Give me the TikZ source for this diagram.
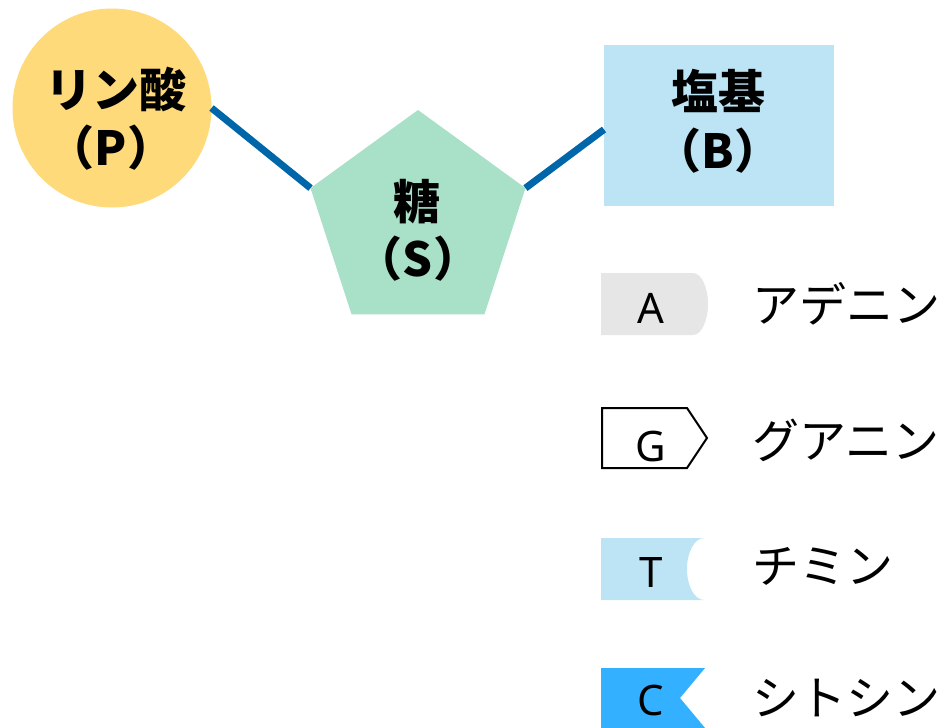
\documentclass[tikz,border=0pt]{standalone}
\usepackage{fontspec}
\newfontfamily\jp{Noto Sans CJK JP}
\newfontfamily\lat{Noto Sans}
\usetikzlibrary{shapes.geometric}
\definecolor{pyellow}{RGB}{255,218,122}
\definecolor{sgreen}{RGB}{169,224,200}
\definecolor{bblue}{RGB}{189,228,245}
\definecolor{lineblue}{RGB}{0,102,170}
\definecolor{agray}{RGB}{230,230,230}
\definecolor{cblue}{RGB}{51,176,255}
\begin{document}
\begin{tikzpicture}[x=1pt,y=-1pt,
  conn/.style={draw=lineblue,line width=7pt},
  big/.style={font=\jp\bfseries\fontsize{47}{56}\selectfont,inner sep=0pt,anchor=base},
  kana/.style={font=\jp\fontsize{47}{56}\selectfont,inner sep=0pt,anchor=west},
  letter/.style={font=\lat\fontsize{42}{50}\selectfont,inner sep=0pt,anchor=base}]
\useasboundingbox (0,0) rectangle (948,728);
% main shapes
\node[circle,fill=pyellow,minimum size=199pt,inner sep=0pt,outer sep=0pt] (P) at (112,108) {};
\node[regular polygon,regular polygon sides=5,fill=sgreen,minimum size=226pt,inner sep=0pt,outer sep=0pt] (S) at (418,223) {};
\node[rectangle,fill=bblue,minimum width=230pt,minimum height=161pt,inner sep=0pt,outer sep=0pt] (B) at (719,125.5) {};
% connectors
\draw[conn] (P.east) -- (S.corner 2);
\draw[conn] (S.corner 5) -- ([yshift=-4pt]B.west);
% labels
\node[big] (P1) at (116,107) {リン酸};
\node[big] (P2) at (111,165) {（P）};
\node[big] (S1) at (417,219) {糖};
\node[big] (S2) at (418,276) {（S）};
\node[big] (B1) at (718,109) {塩基};
\node[big] (B2) at (718,168) {（B）};
% legend shapes
\fill[agray] (601,273) -- (693,273) arc[start angle=-90,end angle=90,x radius=15,y radius=31] -- (601,335) -- cycle;
\draw[fill=white,line width=2pt,line join=miter] (602,408) -- (687,408) -- (707,438) -- (687,468) -- (602,468) -- cycle;
\fill[bblue] (601,538) -- (704,538) arc[start angle=-90,end angle=-270,x radius=17,y radius=31] -- (601,600) -- cycle;
\fill[cblue] (601,668) -- (705,668) -- (680,698) -- (705,728) -- (601,728) -- cycle;
% legend letters
\node[letter] (LA) at (651,323) {A};
\node[letter] (LG) at (651,461) {G};
\node[letter] (LT) at (651,587) {T};
\node[letter] (LC) at (651,715) {C};
% legend names
\node[kana] (NA) at (752,304) {アデニン};
\node[kana] (NG) at (752,440) {グアニン};
\node[kana] (NT) at (752,566) {チミン};
\node[kana] (NC) at (752,698) {シトシン};
\end{tikzpicture}
\end{document}
